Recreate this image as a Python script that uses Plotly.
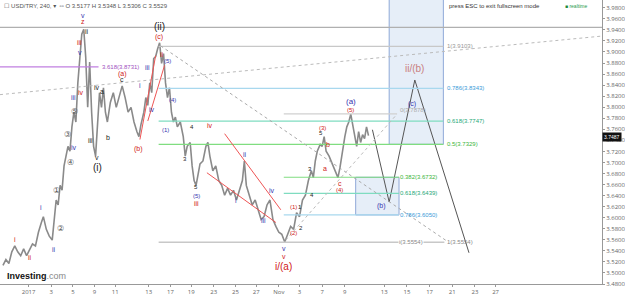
import plotly.graph_objects as go

# ---------------- data ----------------
bar_x = [3,6,9,12,15,18,21,24,27,30,33,36,39,42,44,47,50,53,55,57,59,61,63,65,67,69,71,73,75,77,79,81,83,85,87,89,91,93,95,97,99,101,103,105,107,109,112,115,118,121,124,127,130,133,136,139,141,143,146,148,150,152,154,156,158,160,162,164,166,168,170,172,174,176,178,180,183,186,188,190,193,195,197,199,201,203,206,209,211,213,216,219,222,225,228,231,234,237,240,243,246,248,250,253,256,259,262,265,268,271,274,277,280,283,286,289,292,295,298,301,304,307,310,313,316,318,320,322,325,327,329,331,334,337,340,343,345,348,350,352,354,356,358,360,362,364,366,368,370,372,374]
close = [3.5136,3.5242,3.5171,3.5383,3.5489,3.5383,3.5312,3.5436,3.5312,3.5419,3.5524,3.5489,3.5737,3.5913,3.6019,3.5790,3.5666,3.5595,3.5913,3.6320,3.6231,3.6585,3.6496,3.6938,3.7115,3.7292,3.7203,3.7645,3.7910,3.7733,3.8440,3.8882,3.9324,3.9412,3.8905,3.7998,3.8817,3.7910,3.7292,3.7115,3.7733,3.8263,3.7998,3.8352,3.7910,3.7733,3.8087,3.8263,3.7998,3.8175,3.8387,3.8175,3.7910,3.7998,3.7733,3.7557,3.7468,3.7680,3.7910,3.8175,3.8034,3.8440,3.8263,3.8882,3.8917,3.9058,3.9165,3.8793,3.8970,3.8440,3.8175,3.8352,3.7910,3.7733,3.7822,3.7645,3.7733,3.7468,3.7115,3.7292,3.7362,3.6938,3.6673,3.6585,3.6797,3.6973,3.7027,3.7292,3.7362,3.7115,3.6850,3.6938,3.6673,3.6585,3.6408,3.6532,3.6408,3.6496,3.6320,3.6496,3.6673,3.7027,3.6585,3.6408,3.6231,3.6320,3.6143,3.5966,3.6019,3.6231,3.6320,3.5966,3.5843,3.5737,3.5701,3.5560,3.5701,3.5843,3.5790,3.6090,3.6019,3.6320,3.6408,3.6673,3.6850,3.6726,3.7027,3.7203,3.7327,3.7292,3.7468,3.7203,3.7115,3.6973,3.6850,3.6726,3.6903,3.7292,3.7468,3.7645,3.7733,3.7875,3.7680,3.7468,3.7292,3.7557,3.7362,3.7503,3.7433,3.7645,3.7487]

proj_x = [378, 395, 421, 476]
proj_p = [3.7592, 3.6284, 3.8493, 3.5365]

last_price = "3.7487"

x_tickvals = [29,52,74,96,117,151,173,194,217,239,260,283,304,327,350,390,413,436,459,482,503]
x_ticktext = ["2017","3","5","9","11","13","17","19","23","25","27","Nov","3","7","9","13","15","17","21","23","27"]

# fib levels: (value, x_start, x_end, line colour, label, label colour)
fib_upper = [
    (3.9103, 161, 450, "#c8c8c8", "1(3.9103)", "#999999"),
    (3.8343, 161, 450, "#a8d8ee", "0.786(3.8343)", "#3a9bd8"),
    (3.7747, 161, 450, "#7fdcc0", "0.618(3.7747)", "#25a878"),
    (3.7329, 161, 450, "#80dd80", "0.5(3.7329)", "#3bb53b"),
]
fib_lower = [
    (3.7878, 288, 403, "#d0d0d0", "0(3.7878)", "#aaaaaa"),
    (3.6732, 288, 405, "#80dd80", "0.382(3.6732)", "#3bb53b"),
    (3.6439, 288, 405, "#7fdcc0", "0.618(3.6439)", "#25a878"),
    (3.6050, 288, 405, "#a8d8ee", "0.786(3.6050)", "#3a9bd8"),
]
level_top = 3.9447
level_ext = 3.8731
level_low = 3.5554

R = "#d01818"; B = "#3535b0"; K = "#222222"; S = "#c98080"
wave_labels = [
    ("i",15,3.5613,R,7),("ii",30,3.5277,R,7),("i",42,3.6178,B,7),("ii",55,3.5418,B,7),
    ("①",57,3.6496,"#555",8),("②",61,3.5807,"#555",8),("③",68,3.7503,"#555",8),("④",72,3.6991,"#555",8),("⑤",76,3.7927,"#555",8),
    ("iii",75,3.8175,B,7),("iv",75,3.7274,B,7),("v",81,3.8987,B,7),("iii",81,3.9164,R,7),("iv",82,3.8263,R,7),
    ("v",84,3.9659,B,7),("z",84,3.9553,R,7),
    ("ii",88,3.9376,K,7),("iii",92,3.7397,K,7),("v",98,3.7097,K,7),("(i)",99,3.6902,K,10),("iv",98,3.8351,K,7),
    ("a",104,3.8281,K,7),("b",110,3.7450,K,7),("c",124,3.8493,K,7),("(a)",124,3.8600,R,7),("(b)",141,3.7238,R,7),
    ("i",142,3.8387,B,7),("iii",150,3.8722,B,7),("iv",154,3.7963,B,7),("ii",164,3.8960,R,7),
    ("(c)",161,3.9270,R,7),("(ii)",162,3.9464,K,10),("(5)",170,3.8830,B,6),("(4)",175,3.8122,B,6),("(1)",168,3.7592,B,6),
    ("4",195,3.7645,K,6),("3",188,3.7062,K,6),("5",199,3.6549,K,6),("(5)",199,3.6390,B,6),("iii",199,3.6249,R,7),
    ("iv",213,3.7662,R,7),("i",240,3.6319,B,7),("ii",249,3.7150,B,7),("iii",267,3.5948,B,7),("iv",276,3.6496,B,7),
    ("v",288,3.5436,B,7),("v",288,3.5295,R,7),("i/(a)",288,3.5118,R,10),
    ("(1)",298,3.6196,R,6),("(2)",298,3.5719,R,6),("1",304,3.6196,K,6),("2",306,3.5807,K,6),
    ("3",315,3.6885,K,6),("4",317,3.6408,K,6),("5",326,3.7539,K,6),("(3)",327,3.7627,R,6),
    ("b",333,3.7327,R,7),("a",330,3.6885,R,7),("c",345,3.6620,R,7),("(4)",345,3.6496,R,6),
    ("(5)",356,3.7945,R,6),("(a)",356,3.8104,B,8),("(c)",418,3.8051,B,7),("ii/(b)",421,3.8705,S,10),("(b)",387,3.6213,B,7),
]

# ---------------- figure ----------------
Y0, Y1 = 3.48, 3.9941
fig = go.Figure()
fig.add_trace(go.Scatter(x=bar_x, y=close, mode="lines",
                         line=dict(color="#8a8a8a", width=1.6), hoverinfo="skip"))
fig.add_trace(go.Scatter(x=proj_x, y=proj_p, mode="lines",
                         line=dict(color="#555555", width=1), hoverinfo="skip"))

shapes = []
shapes.append(dict(type="rect", x0=395, x1=450, y0=fib_upper[3][0], y1=Y1 + 0.01,
                   fillcolor="rgba(205,222,242,0.5)", line=dict(color="#8fa8d8", width=1), layer="below"))
shapes.append(dict(type="rect", x0=361, x1=405, y0=fib_lower[3][0], y1=fib_lower[1][0],
                   fillcolor="rgba(205,222,242,0.5)", line=dict(color="#8fa8d8", width=1), layer="below"))
shapes.append(dict(type="line", x0=0, x1=611, y0=level_top, y1=level_top, line=dict(color="#b0b0b0", width=1.2)))
shapes.append(dict(type="line", x0=0, x1=100, y0=level_ext, y1=level_ext, line=dict(color="#c07fe0", width=1.2)))
shapes.append(dict(type="line", x0=161, x1=451, y0=level_low, y1=level_low, line=dict(color="#c8c8c8", width=1.5)))
for v, xa, xb, col, lab, lcol in fib_upper + fib_lower:
    shapes.append(dict(type="line", x0=xa, x1=xb, y0=v, y1=v, line=dict(color=col, width=1.2)))
shapes.append(dict(type="line", x0=0, y0=3.8228, x1=611, y1=3.9288, line=dict(color="#bbbbbb", width=1, dash="dot")))
shapes.append(dict(type="line", x0=163, y0=3.9111, x1=455, y1=3.5560, line=dict(color="#aaaaaa", width=1, dash="dot")))
shapes.append(dict(type="line", x0=290, y0=3.5595, x1=403, y1=3.7875, line=dict(color="#bbbbbb", width=1, dash="dot")))
red = dict(color="#ee5555", width=1)
shapes.append(dict(type="line", x0=142, y0=3.7415, x1=158, y1=3.8934, line=red))
shapes.append(dict(type="line", x0=150, y0=3.7751, x1=167, y1=3.8758, line=red))
shapes.append(dict(type="line", x0=228, y0=3.7521, x1=285, y1=3.6143, line=red))
shapes.append(dict(type="line", x0=210, y0=3.6814, x1=280, y1=3.5913, line=red))

ann = []
for t, x, y, c, s in wave_labels:
    ann.append(dict(x=x, y=y, text=t, showarrow=False, font=dict(color=c, size=s, family="Liberation Sans, DejaVu Sans")))
fs = dict(size=6, family="Liberation Sans, DejaVu Sans")
ann.append(dict(x=101, y=level_ext, text="3.618(3.8731)", xanchor="left", showarrow=False, font=dict(color="#a050c0", **fs)))
for v, xa, xb, col, lab, lcol in fib_upper:
    ann.append(dict(x=452, y=v, text=lab, xanchor="left", showarrow=False, font=dict(color=lcol, **fs)))
for v, xa, xb, col, lab, lcol in fib_lower:
    yy = v + 0.008 if lab.startswith("0(") else v
    ann.append(dict(x=404, y=yy, text=lab, xanchor="left", showarrow=False, font=dict(color=lcol, **fs)))
ann.append(dict(x=404, y=level_low, text="i(3.5554)", xanchor="left", showarrow=False, bgcolor="white", borderpad=0, font=dict(color="#888", **fs)))
ann.append(dict(x=452, y=level_low, text="1(3.5554)", xanchor="left", showarrow=False, font=dict(color="#888", **fs)))
ann.append(dict(x=452, y=3.9990, text="1.272(3.9908)", xanchor="left", showarrow=False, font=dict(color="#e06060", **fs)))

ann.append(dict(xref="paper", yref="paper", x=0.004, y=0.995, xanchor="left", yanchor="top", showarrow=False,
                text="☐ USD/TRY, 240, ▾  ▫▫ O 3.5177 H 3.5348 L 3.5306 C 3.5529",
                font=dict(size=6, color="#555", family="Liberation Sans, DejaVu Sans")))
ann.append(dict(xref="paper", yref="paper", x=0.822, y=0.995, xanchor="center", yanchor="top", showarrow=False,
                text="press ESC to exit fullscreen mode", font=dict(size=6, color="#333", family="Liberation Sans, DejaVu Sans")))
ann.append(dict(xref="paper", yref="paper", x=0.935, y=0.995, xanchor="left", yanchor="top", showarrow=False,
                text="<span style='color:#1a8a3a'>■</span> realtime", font=dict(size=5, color="#2a9a4a", family="Liberation Sans, DejaVu Sans")))
ann.append(dict(xref="paper", yref="paper", x=0.008, y=0.005, xanchor="left", yanchor="bottom", showarrow=False,
                text="<b>Investing</b><span style='color:#888'>.com</span>", font=dict(size=9, color="#111", family="Liberation Sans, DejaVu Sans")))
ann.append(dict(xref="paper", yref="y", x=1.0, y=3.7468, xanchor="left", showarrow=False, text=last_price,
                bgcolor="#111", borderpad=1, font=dict(size=5, color="white", family="Liberation Sans, DejaVu Sans")))

fig.update_layout(
    width=625, height=296, margin=dict(l=0, r=14, t=0, b=4),
    paper_bgcolor="white", plot_bgcolor="white", showlegend=False,
    shapes=shapes, annotations=ann,
    xaxis=dict(range=[0, 611], showgrid=False, zeroline=False, showline=True, linecolor="#999", linewidth=1,
               ticks="outside", ticklen=2, tickcolor="#999", tickvals=x_tickvals, ticktext=x_ticktext,
               tickfont=dict(size=6, color="#666")),
    yaxis=dict(range=[Y0, Y1], side="right", showgrid=False, zeroline=False, showline=True, linecolor="#999", linewidth=1,
               ticks="outside", ticklen=2, tickcolor="#999", dtick=0.02, tick0=3.48, tickformat=".4f",
               tickfont=dict(size=6, color="#666")),
)
fig.write_html("out.html")
